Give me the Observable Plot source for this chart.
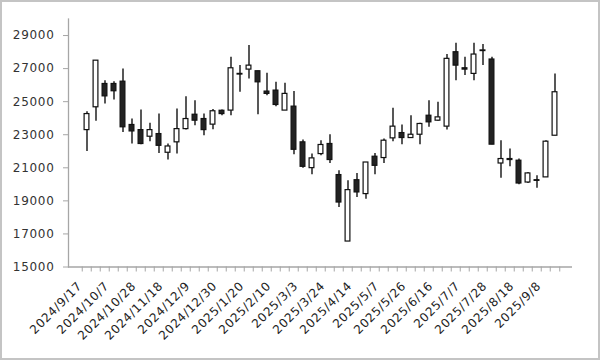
<!DOCTYPE html>
<html>
<head>
<meta charset="utf-8">
<script src="https://cdn.jsdelivr.net/npm/d3@7"></script>
<script src="https://cdn.jsdelivr.net/npm/@observablehq/plot@0.6"></script>
<style>
  html, body { margin: 0; padding: 0; background: #fff; }
  #chart svg { display: block; outline: 2px solid #c4c4c4; outline-offset: -2px; letter-spacing: 0.7px; }
</style>
</head>
<body>
<div id="chart"></div>
<script>
const dates = ["2024/9/17","2024/9/24","2024/9/30","2024/10/7","2024/10/15","2024/10/21","2024/10/28","2024/11/5","2024/11/11","2024/11/18","2024/11/25","2024/12/2","2024/12/9","2024/12/16","2024/12/23","2024/12/30","2025/1/6","2025/1/14","2025/1/20","2025/1/27","2025/2/3","2025/2/10","2025/2/17","2025/2/25","2025/3/3","2025/3/10","2025/3/17","2025/3/24","2025/3/31","2025/4/7","2025/4/14","2025/4/21","2025/4/28","2025/5/7","2025/5/12","2025/5/19","2025/5/26","2025/6/2","2025/6/9","2025/6/16","2025/6/23","2025/6/30","2025/7/7","2025/7/14","2025/7/22","2025/7/28","2025/8/4","2025/8/12","2025/8/18","2025/8/25","2025/9/1","2025/9/8","2025/9/16"];
const open  = [23280,24660,26070,26070,26210,23590,23280,22880,23040,21910,22540,23340,24210,23950,23610,24450,24460,26680,26940,26840,25610,25670,24460,24700,22540,20980,21830,22440,20560,16540,20250,19410,21670,21590,22780,23100,22800,23000,24150,23850,23490,27990,27020,26680,28060,27550,21260,21530,21430,20110,20250,20420,22940];
const high  = [24390,27490,26270,26210,26980,23950,24500,23690,24250,22440,24560,25300,25060,24250,24520,24500,27690,27180,28390,26840,26720,26170,26110,25610,22680,21830,22640,23000,20820,20210,20660,21320,21870,22740,24600,23590,24150,23690,25060,24960,27850,28540,27690,28540,28460,27690,22640,22130,21530,20720,20520,22640,26680];
const low   = [21990,23810,24860,25100,23140,22440,22400,22580,21870,21470,21830,23280,23550,22940,23300,24150,24150,25570,26370,24210,25360,24700,24460,21790,20980,20580,21730,21260,18600,16540,19200,19100,20580,21260,22580,22400,22800,22400,23450,23810,23280,26270,26580,26270,27180,22400,20370,21060,19970,20050,19770,20420,22940];
const close = [24250,27480,25320,25630,23450,23200,22440,23280,22330,22290,23340,23950,23850,23280,24420,24250,27020,26640,27180,26170,25470,24800,25470,22090,21060,21570,22380,21470,18900,19650,19510,21320,21120,22640,23490,22800,23000,23650,23750,24050,27590,27180,26940,27850,28100,22400,21530,21470,20050,20660,20210,22580,25570];
const yTicks = [15000,17000,19000,21000,23000,25000,27000,29000];
const labelDates = ["2024/9/17","2024/10/7","2024/10/28","2024/11/18","2024/12/9","2024/12/30","2025/1/20","2025/2/10","2025/3/3","2025/3/24","2025/4/14","2025/5/7","2025/5/26","2025/6/16","2025/7/7","2025/7/28","2025/8/18","2025/9/8"];

const data = dates.map((d, i) => ({date: d, open: open[i], high: high[i], low: low[i], close: close[i]}));

const W = 600, H = 360, mL = 68, mR = 28;
const band = (W - mL - mR) / dates.length;
const axisGray = "#a6a6a6";

const chart = Plot.plot({
  width: W,
  height: H,
  marginLeft: mL,
  marginRight: mR,
  marginTop: 18.5,
  marginBottom: 93.5,
  style: {fontFamily: "'DejaVu Sans', Verdana, sans-serif", fontSize: "12px", color: "#333", background: "#fff"},
  x: {type: "band", domain: dates, padding: 0, axis: null},
  y: {domain: [15000, 30000], axis: null},
  marks: [
    Plot.ruleY([15000], {stroke: axisGray, strokeWidth: 1.3}),
    Plot.frame({anchor: "left", stroke: axisGray, strokeWidth: 1.3}),
    Plot.axisY({ticks: yTicks, tickSize: 5, tickPadding: 9, tickFormat: d => String(d), stroke: axisGray, fill: "#333", fontSize: 12, label: null}),
    Plot.axisX({ticks: dates, text: null, tickSize: 5, dx: -band / 2, stroke: axisGray, label: null}),
    Plot.axisX({ticks: [dates[dates.length - 1]], text: null, tickSize: 5, dx: band / 2, stroke: axisGray, label: null}),
    Plot.axisX({ticks: labelDates, tickSize: 0, tickPadding: 17, tickRotate: -45, fill: "#222", fontSize: 12, dx: -7, label: null}),
    Plot.ruleX(data, {x: "date", y1: "low", y2: "high", stroke: "#111", strokeWidth: 1.4}),
    Plot.barY(data, {
      x: "date", y1: "open", y2: "close",
      fill: d => d.close > d.open ? "#fff" : "#222",
      stroke: "#111", strokeWidth: 1.2,
      insetLeft: 2.1, insetRight: 2.1
    })
  ]
});
document.getElementById("chart").appendChild(chart);
</script>
</body>
</html>
